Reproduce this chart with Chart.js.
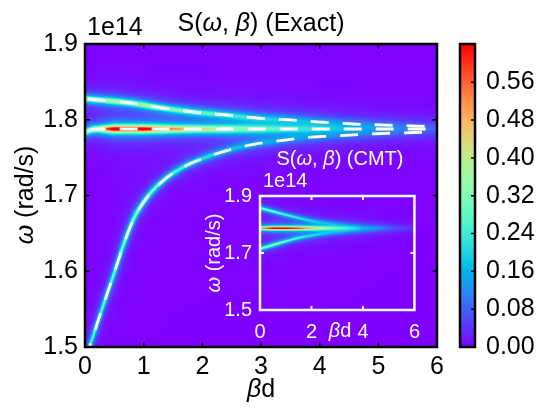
<!DOCTYPE html>
<html>
<head>
<meta charset="utf-8">
<script src="https://cdn.jsdelivr.net/npm/chart.js@4.4.1/dist/chart.umd.min.js"></script>
<style>
  body { margin: 0; background: #fff; }
  #wrap { position: relative; width: 540px; height: 408px; }
  canvas { position: absolute; }
</style>
</head>
<body>
<div id="wrap">
  <canvas id="main" width="540" height="408" style="left:0;top:0"></canvas>
  <canvas id="cbar" width="100" height="408" style="left:440px;top:0"></canvas>
  <canvas id="inset" width="230" height="200" style="left:200px;top:150px"></canvas>
</div>
<script>
// ---- data (omega in units of 1e14 rad/s) ----
const xTicks = [0, 1, 2, 3, 4, 5, 6];
const yTicks = [1.5, 1.6, 1.7, 1.8, 1.9];
const cbarTicks = [0, 0.08, 0.16, 0.24, 0.32, 0.40, 0.48, 0.56];
const cbarMax = 0.641;

// exact dispersion branches (dashed lines)
const upperBeta  = [0.05, 0.78, 1.32, 1.86, 2.40, 2.93, 3.50, 4.00, 4.57, 5.13, 5.67, 6.00];
const upperOmega = [1.8274, 1.8221, 1.8155, 1.8102, 1.8063, 1.8023, 1.7997, 1.7970, 1.7944, 1.7930, 1.7917, 1.7910];
const middleBeta  = [0.05, 0.12, 0.25, 1.0, 2.0, 3.0, 4.0, 5.0, 6.0];
const middleOmega = [1.7852, 1.7870, 1.7878, 1.7878, 1.7878, 1.7878, 1.7878, 1.7878, 1.7878];
const lowerBeta  = [0.00, 0.097, 0.324, 0.494, 0.665, 0.835, 1.062, 1.346, 1.687, 2.085, 2.54, 2.99, 3.15, 3.70, 4.24, 4.79, 5.33, 5.88, 6.00];
const lowerOmega = [1.482, 1.505, 1.558, 1.597, 1.637, 1.670, 1.698, 1.7205, 1.738, 1.751, 1.762, 1.769, 1.7706, 1.776, 1.7786, 1.781, 1.7825, 1.7838, 1.7840];

// peak value and line width of S along each branch (exact)
const ampBeta     = [0, 0.25, 0.5, 1, 1.5, 2, 2.5, 3, 3.5, 4, 4.5, 5, 5.5, 6];
const upperPeak   = [0.36, 0.37, 0.38, 0.36, 0.32, 0.27, 0.22, 0.17, 0.13, 0.10, 0.07, 0.05, 0.035, 0.025];
const middlePeak  = [0.36, 0.48, 0.70, 0.68, 0.52, 0.42, 0.34, 0.27, 0.21, 0.16, 0.11, 0.08, 0.06, 0.04];
const lowerPeak   = [0.26, 0.28, 0.30, 0.33, 0.27, 0.22, 0.17, 0.13, 0.10, 0.07, 0.05, 0.035, 0.025, 0.02];
const upperWidth  = [0.004, 0.004, 0.004, 0.004, 0.0042, 0.0045, 0.005, 0.0055, 0.006, 0.0065, 0.007, 0.0075, 0.008, 0.008];
const middleWidth = [0.004, 0.0042, 0.0045, 0.0045, 0.0046, 0.0048, 0.0055, 0.006, 0.0065, 0.007, 0.0075, 0.008, 0.0085, 0.009];
const lowerWidth  = [0.0025, 0.0025, 0.0025, 0.003, 0.0035, 0.004, 0.0045, 0.005, 0.0055, 0.006, 0.0065, 0.007, 0.0075, 0.008];

// CMT inset
const insetXTicks = [0, 2, 4, 6];
const insetYTicks = [1.5, 1.7, 1.9];
const insetBeta        = [0, 0.5, 1, 1.5, 2, 2.5, 3, 3.5, 4, 5, 6];
const insetUpperOmega  = [1.858, 1.846, 1.834, 1.823, 1.813, 1.806, 1.801, 1.796, 1.793, 1.789, 1.788];
const insetMiddleOmega = [1.787, 1.787, 1.787, 1.787, 1.787, 1.787, 1.787, 1.787, 1.787, 1.787, 1.787];
const insetLowerOmega  = [1.715, 1.728, 1.741, 1.753, 1.761, 1.768, 1.773, 1.777, 1.780, 1.784, 1.786];
const insetUpperPeak   = [0.30, 0.29, 0.25, 0.21, 0.17, 0.13, 0.10, 0.07, 0.045, 0.02, 0.01];
const insetMiddlePeak  = [0.50, 0.66, 0.66, 0.58, 0.45, 0.33, 0.24, 0.16, 0.10, 0.04, 0.015];
const insetLowerPeak   = [0.32, 0.33, 0.28, 0.23, 0.18, 0.14, 0.11, 0.08, 0.05, 0.02, 0.01];
const insetWidth       = [0.006, 0.006, 0.006, 0.0065, 0.007, 0.0075, 0.008, 0.009, 0.010, 0.011, 0.012];

const SANS = '"Liberation Sans", Arial, sans-serif';
Chart.defaults.font.family = SANS;

// matplotlib "rainbow"
function rainbow(t) {
  t = Math.max(0, Math.min(1, t));
  const r = Math.min(1, Math.abs(2 * t - 0.5));
  const g = Math.sin(Math.PI * t);
  const b = Math.cos(Math.PI * t / 2);
  return [r * 255, g * 255, b * 255];
}

function lin(xs, ys, x) {
  if (x <= xs[0]) return ys[0];
  for (let i = 0; i < xs.length - 1; i++) {
    if (x <= xs[i + 1]) return ys[i] + (ys[i + 1] - ys[i]) * (x - xs[i]) / (xs[i + 1] - xs[i]);
  }
  return ys[ys.length - 1];
}

// monotone cubic through the read points, returns [value, slope]
function monotone(xs, ys) {
  const n = xs.length, d = [], m = new Array(n);
  for (let i = 0; i < n - 1; i++) d.push((ys[i + 1] - ys[i]) / (xs[i + 1] - xs[i]));
  m[0] = d[0]; m[n - 1] = d[n - 2];
  for (let i = 1; i < n - 1; i++) m[i] = d[i - 1] * d[i] <= 0 ? 0 : (d[i - 1] + d[i]) / 2;
  for (let i = 0; i < n - 1; i++) {
    if (d[i] === 0) { m[i] = m[i + 1] = 0; continue; }
    const a = m[i] / d[i], b = m[i + 1] / d[i], s = a * a + b * b;
    if (s > 9) { const k = 3 / Math.sqrt(s); m[i] = k * a * d[i]; m[i + 1] = k * b * d[i]; }
  }
  return x => {
    if (x <= xs[0]) return [ys[0] + m[0] * (x - xs[0]), m[0]];
    if (x >= xs[n - 1]) return [ys[n - 1] + m[n - 1] * (x - xs[n - 1]), m[n - 1]];
    let i = 0;
    while (x > xs[i + 1]) i++;
    const h = xs[i + 1] - xs[i], t = (x - xs[i]) / h, t2 = t * t, t3 = t2 * t;
    const y = (2 * t3 - 3 * t2 + 1) * ys[i] + (t3 - 2 * t2 + t) * h * m[i] + (-2 * t3 + 3 * t2) * ys[i + 1] + (t3 - t2) * h * m[i + 1];
    const dy = ((6 * t2 - 6 * t) * ys[i] + (3 * t2 - 4 * t + 1) * h * m[i] + (-6 * t2 + 6 * t) * ys[i + 1] + (3 * t2 - 2 * t) * h * m[i + 1]) / h;
    return [y, dy];
  };
}

// heatmap drawn cell by cell (one cell per pixel) through the chart scales
function heatPlugin(branches) {
  let img = null;
  return {
    id: 'heat',
    beforeDatasetsDraw(chart) {
      const { ctx, chartArea: a, scales: { x, y } } = chart;
      if (!img) {
        const w = Math.round(a.width), h = Math.round(a.height);
        img = document.createElement('canvas');
        img.width = w; img.height = h;
        const ictx = img.getContext('2d');
        const id = ictx.createImageData(w, h);
        const kx = (x.getValueForPixel(a.right) - x.getValueForPixel(a.left)) / a.width;
        const ky = (y.getValueForPixel(a.top) - y.getValueForPixel(a.bottom)) / a.height;
        for (let i = 0; i < w; i++) {
          const b = x.getValueForPixel(a.left + i + 0.5);
          const cols = branches.map(br => {
            const [c, s] = br.curve(b);
            const sp = s * kx / ky;
            return { c, amp: lin(br.bx, br.peak, b), wid: lin(br.bx, br.width, b), f: Math.sqrt(1 + sp * sp) };
          });
          for (let j = 0; j < h; j++) {
            const om = y.getValueForPixel(a.top + j + 0.5);
            let v = 0;
            for (const c of cols) {
              const dd = (om - c.c) / c.f / c.wid;
              v += c.amp / (1 + dd * dd);
            }
            const [r, g, bl] = rainbow(v / cbarMax);
            const k = (j * w + i) * 4;
            id.data[k] = r; id.data[k + 1] = g; id.data[k + 2] = bl; id.data[k + 3] = 255;
          }
        }
        ictx.putImageData(id, 0, 0);
      }
      ctx.drawImage(img, a.left, a.top, a.width, a.height);
    }
  };
}

// inward ticks + frame
function framePlugin(color, lw, tlen, tw) {
  return {
    id: 'frame',
    afterDatasetsDraw(chart) {
      const { ctx, chartArea: a, scales: { x, y } } = chart;
      ctx.save();
      ctx.strokeStyle = color; ctx.lineWidth = tw;
      ctx.beginPath();
      x.ticks.forEach(t => {
        if (t.value <= x.min || t.value >= x.max) return;
        const p = x.getPixelForValue(t.value);
        ctx.moveTo(p, a.bottom); ctx.lineTo(p, a.bottom - tlen);
        ctx.moveTo(p, a.top); ctx.lineTo(p, a.top + tlen);
      });
      y.ticks.forEach(t => {
        if (t.value <= y.min || t.value >= y.max) return;
        const p = y.getPixelForValue(t.value);
        ctx.moveTo(a.left, p); ctx.lineTo(a.left + tlen, p);
        ctx.moveTo(a.right, p); ctx.lineTo(a.right - tlen, p);
      });
      ctx.stroke();
      ctx.lineWidth = lw;
      ctx.strokeRect(a.left, a.top, a.width, a.height);
      ctx.restore();
    }
  };
}

function rich(ctx, parts, x, y, size, color, align, rot) {
  ctx.save();
  ctx.translate(x, y); ctx.rotate(rot || 0);
  ctx.fillStyle = color; ctx.textBaseline = 'alphabetic'; ctx.textAlign = 'left';
  const fonts = parts.map(p => (p[1] ? 'italic ' : '') + size + 'px ' + SANS);
  let w = 0;
  parts.forEach((p, i) => { ctx.font = fonts[i]; w += ctx.measureText(p[0]).width; });
  let cx = align === 'left' ? 0 : -w / 2;
  parts.forEach((p, i) => { ctx.font = fonts[i]; ctx.fillText(p[0], cx, 0); cx += ctx.measureText(p[0]).width; });
  ctx.restore();
}

function textPlugin(items) {
  return { id: 'texts', afterDraw(chart) { items.forEach(it => rich(chart.ctx, ...it)); } };
}

function fixTicks(list) { return s => { s.ticks = list.map(v => ({ value: v })); }; }

const pts = (bs, os) => bs.map((b, i) => ({ x: b, y: os[i] }));
const dashed = data => ({
  data, showLine: true, pointRadius: 0, borderColor: '#ffffff', borderWidth: 2.8,
  borderDash: [18, 14], cubicInterpolationMode: 'monotone', fill: false
});
const noGrid = { display: false, drawTicks: false };

// ---- main chart ----
new Chart(document.getElementById('main'), {
  type: 'scatter',
  data: {
    datasets: [
      dashed(pts(upperBeta, upperOmega)),
      dashed(pts(middleBeta, middleOmega)),
      dashed(pts(lowerBeta, lowerOmega))
    ]
  },
  options: {
    responsive: false, animation: false, events: [],
    layout: { padding: { left: 0, top: 44, right: 103, bottom: 0 } },
    plugins: { legend: { display: false }, tooltip: { enabled: false } },
    scales: {
      x: {
        type: 'linear', min: 0, max: 6,
        grid: noGrid, border: { display: false },
        afterBuildTicks: fixTicks(xTicks),
        ticks: { color: '#000', font: { size: 25 }, padding: 5, maxRotation: 0 },
        afterFit: s => { s.height = 61; }
      },
      y: {
        type: 'linear', min: 1.5, max: 1.9,
        grid: noGrid, border: { display: false },
        afterBuildTicks: fixTicks(yTicks),
        ticks: { color: '#000', font: { size: 25 }, padding: 7, callback: v => v.toFixed(1) },
        afterFit: s => { s.width = 85; }
      }
    }
  },
  plugins: [
    heatPlugin([
      { curve: monotone(upperBeta, upperOmega), bx: ampBeta, peak: upperPeak, width: upperWidth },
      { curve: monotone(middleBeta, middleOmega), bx: ampBeta, peak: middlePeak, width: middleWidth },
      { curve: monotone(lowerBeta, lowerOmega), bx: ampBeta, peak: lowerPeak, width: lowerWidth }
    ]),
    framePlugin('#000', 2.5, 5, 1.5),
    textPlugin([
      [[['S('], ['ω', 1], [', '], ['β', 1], [') (Exact)']], 261, 31, 25, '#000', 'center'],
      [[['1e14']], 87, 35, 25, '#000', 'left'],
      [[['ω', 1], [' (rad/s)']], 33, 195, 25, '#000', 'center', -Math.PI / 2],
      [[['β', 1], ['d']], 261, 397, 25, '#000', 'center']
    ])
  ]
});

// ---- colorbar ----
new Chart(document.getElementById('cbar'), {
  type: 'scatter',
  data: { datasets: [] },
  options: {
    responsive: false, animation: false, events: [],
    layout: { padding: { left: 20, top: 44, right: 0, bottom: 61 } },
    plugins: { legend: { display: false }, tooltip: { enabled: false } },
    scales: {
      x: { display: false, min: 0, max: 1 },
      y: {
        position: 'right', min: 0, max: cbarMax,
        grid: noGrid, border: { display: false },
        afterBuildTicks: fixTicks(cbarTicks),
        ticks: { color: '#000', font: { size: 25 }, padding: 11, callback: v => v.toFixed(2) },
        afterFit: s => { s.width = 65; }
      }
    }
  },
  plugins: [{
    id: 'cbarFill',
    beforeDatasetsDraw(chart) {
      const { ctx, chartArea: a, scales: { y } } = chart;
      for (let j = Math.floor(a.top); j < a.bottom; j++) {
        const [r, g, b] = rainbow(y.getValueForPixel(j + 0.5) / cbarMax);
        ctx.fillStyle = `rgb(${r | 0},${g | 0},${b | 0})`;
        ctx.fillRect(a.left, j, a.width, 1);
      }
      ctx.save();
      ctx.strokeStyle = '#000'; ctx.lineWidth = 1.5;
      ctx.beginPath();
      cbarTicks.forEach(v => {
        if (v <= 0) return;
        const p = y.getPixelForValue(v);
        ctx.moveTo(a.right, p); ctx.lineTo(a.right - 4, p);
      });
      ctx.stroke();
      ctx.lineWidth = 2.5;
      ctx.strokeRect(a.left, a.top, a.width, a.height);
      ctx.restore();
    }
  }]
});

// ---- CMT inset ----
new Chart(document.getElementById('inset'), {
  type: 'scatter',
  data: { datasets: [] },
  options: {
    responsive: false, animation: false, events: [],
    layout: { padding: { left: 0, top: 46, right: 10, bottom: 0 } },
    plugins: { legend: { display: false }, tooltip: { enabled: false } },
    scales: {
      x: {
        type: 'linear', min: 0, max: 6,
        grid: noGrid, border: { display: false },
        afterBuildTicks: fixTicks(insetXTicks),
        ticks: { color: '#fff', font: { size: 20 }, padding: 10, maxRotation: 0 },
        afterFit: s => { s.height = 40; }
      },
      y: {
        type: 'linear', min: 1.5, max: 1.9,
        grid: noGrid, border: { display: false },
        afterBuildTicks: fixTicks(insetYTicks),
        ticks: { color: '#fff', font: { size: 20 }, padding: 8, callback: v => v.toFixed(1) },
        afterFit: s => { s.width = 60; }
      }
    }
  },
  plugins: [
    heatPlugin([
      { curve: monotone(insetBeta, insetUpperOmega), bx: insetBeta, peak: insetUpperPeak, width: insetWidth },
      { curve: monotone(insetBeta, insetMiddleOmega), bx: insetBeta, peak: insetMiddlePeak, width: insetWidth },
      { curve: monotone(insetBeta, insetLowerOmega), bx: insetBeta, peak: insetLowerPeak, width: insetWidth }
    ]),
    framePlugin('#fff', 2.5, 4, 2),
    textPlugin([
      [[['S('], ['ω', 1], [', '], ['β', 1], [') (CMT)']], 140, 15, 20, '#fff', 'center'],
      [[['1e14']], 63, 37, 20, '#fff', 'left'],
      [[['ω', 1], [' (rad/s)']], 20, 103, 20, '#fff', 'center', -Math.PI / 2],
      [[['β', 1], ['d']], 140, 187, 20, '#fff', 'center']
    ])
  ]
});
</script>
</body>
</html>
